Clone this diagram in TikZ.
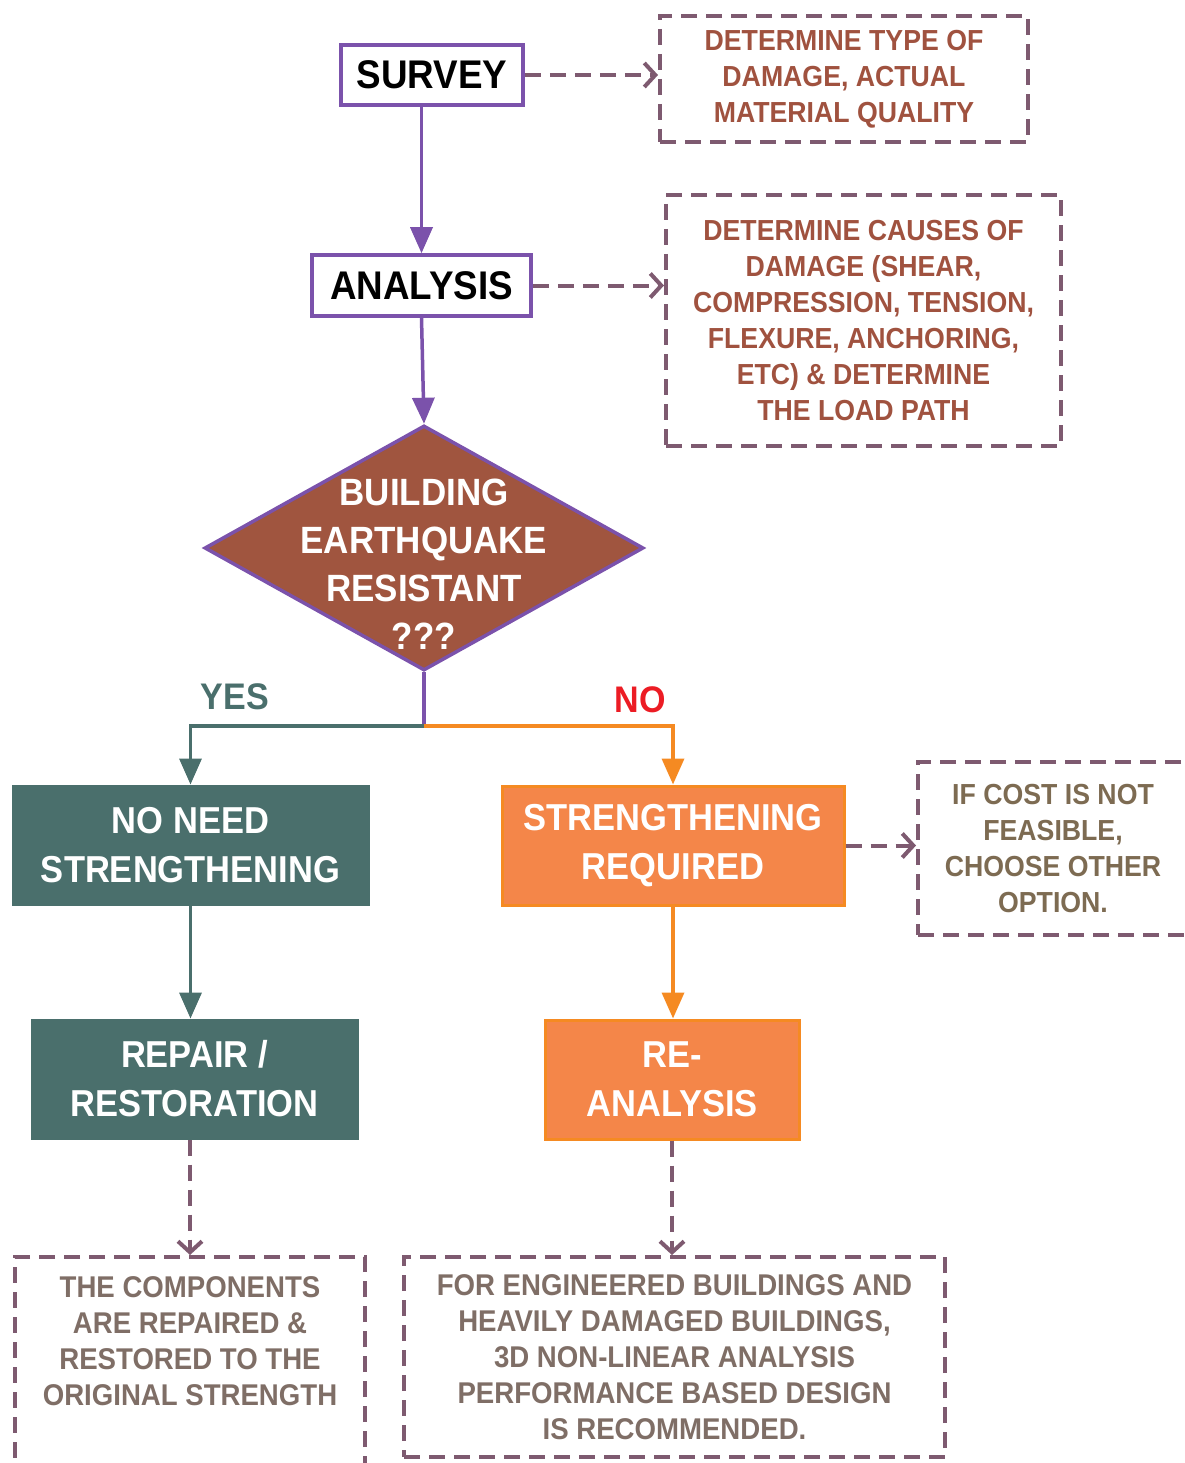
\documentclass[tikz,border=0pt]{standalone}
\usepackage{fontspec}
\setmainfont{Liberation Sans}[FakeStretch=0.92]
\usetikzlibrary{arrows.meta,shapes.geometric}
\definecolor{cpurple}{HTML}{7B52AB}
\definecolor{cdash}{HTML}{7E5A70}
\definecolor{cbrown}{HTML}{A0523F}
\definecolor{cdiam}{HTML}{A0553F}
\definecolor{cteal}{HTML}{4A6F6C}
\definecolor{corfill}{HTML}{F48649}
\definecolor{corline}{HTML}{F58A22}
\definecolor{cred}{HTML}{EC1C24}
\definecolor{colive}{HTML}{7D6B52}
\definecolor{cgrey}{HTML}{7F6E66}
\begin{document}
\begin{tikzpicture}[x=1pt,y=-1pt,
  whitebox/.style={rectangle, draw=cpurple, line width=3.5pt, fill=white, text=black, inner sep=0pt,
    font=\bfseries\fontsize{40}{48}\selectfont},
  dbox/.style={rectangle, draw=cdash, line width=4pt, dash pattern=on 16pt off 9pt, align=center, inner sep=0pt,
    font=\bfseries\fontsize{29}{36}\selectfont},
  tealbox/.style={rectangle, fill=cteal, draw=cteal, line width=1pt, text=white, align=center, inner sep=0pt,
    font=\bfseries\fontsize{37.5}{49}\selectfont},
  orbox/.style={rectangle, fill=corfill, draw=corline, line width=3pt, text=white, align=center, inner sep=0pt,
    font=\bfseries\fontsize{37.5}{49}\selectfont},
  solidarrow/.style={line width=3.5pt, -{Triangle[length=26pt,width=22pt]}},
  dasharrow/.style={draw=cdash, line width=4pt, dash pattern=on 16pt off 9pt, -{Straight Barb[length=11pt,width=24pt]}},
  lbl/.style={font=\bfseries\fontsize{37}{44}\selectfont, anchor=base, inner sep=0pt}
]
\useasboundingbox (0,0) rectangle (1184,1463);

% main nodes
\node[whitebox, minimum width=182pt, minimum height=60pt] (survey) at (432,75) {SURVEY};
\node[whitebox, minimum width=219pt, minimum height=61pt] (analysis) at (421.5,285.5) {ANALYSIS};
\node[diamond, draw=cpurple, fill=cdiam, line width=3.5pt, minimum width=439pt, minimum height=245pt, inner sep=0pt] (dec) at (424,548) {};
\node[text=white, align=center, inner sep=0pt, font=\bfseries\fontsize{38}{48}\selectfont] (dectext) at (424,564) {BUILDING\\EARTHQUAKE\\RESISTANT\\???};
\node[tealbox, minimum width=357pt, minimum height=120pt] (noneed) at (190.5,845) {NO NEED\\STRENGTHENING};
\node[orbox, minimum width=342pt, minimum height=119pt] (strreq) at (673,845.5) {STRENGTHENING\\REQUIRED};
\node[tealbox, minimum width=327pt, minimum height=120pt] (repair) at (194.5,1079) {REPAIR /\\RESTORATION};
\node[orbox, minimum width=254pt, minimum height=119pt] (reana) at (672,1079.5) {RE-\\ANALYSIS};

% note boxes
\node[dbox, text=cbrown, minimum width=368pt, minimum height=126pt] (n1) at (844,79) {DETERMINE TYPE OF\\DAMAGE, ACTUAL\\MATERIAL QUALITY};
\node[dbox, text=cbrown, minimum width=395pt, minimum height=251pt] (n2) at (863.5,320.5) {DETERMINE CAUSES OF\\DAMAGE (SHEAR,\\COMPRESSION, TENSION,\\FLEXURE, ANCHORING,\\ETC) \& DETERMINE\\THE LOAD PATH};
\node[dbox, text=colive, minimum width=270pt, minimum height=173pt] (n3) at (1053,848.5) {IF COST IS NOT\\FEASIBLE,\\CHOOSE OTHER\\OPTION.};
\node[dbox, text=cgrey, minimum width=350pt, minimum height=240pt, font=\bfseries\fontsize{30}{36}\selectfont] (n4) at (190,1377) {THE COMPONENTS\\ARE REPAIRED \&\\RESTORED TO THE\\ORIGINAL STRENGTH\\~\\~};
\node[dbox, text=cgrey, minimum width=541pt, minimum height=200pt, font=\bfseries\fontsize{30}{36}\selectfont] (n5) at (674.5,1357) {FOR ENGINEERED BUILDINGS AND\\HEAVILY DAMAGED BUILDINGS,\\3D NON-LINEAR ANALYSIS\\PERFORMANCE BASED DESIGN\\IS RECOMMENDED.};

% labels
\node[lbl, text=cteal] (yes) at (235,709) {YES};
\node[lbl, text=cred] (no) at (640,712) {NO};

% connectors
\draw[cpurple, solidarrow] (analysis.north |- survey.south) -- (analysis.north);
\draw[cpurple, solidarrow] (analysis.south) -- (dec.north);
\coordinate (j) at (424,726);
\draw[cpurple, line width=3.5pt] (dec.south) -- (j);
\draw[cteal, solidarrow] (j) -| (noneed.north);
\draw[corline, solidarrow] (j) -| (strreq.north);
\draw[cteal, solidarrow] (noneed.south) -- (noneed.south |- repair.north);
\draw[corline, solidarrow] (strreq.south) -- (strreq.south |- reana.north);

\draw[dasharrow] (survey.east) -- (survey.east -| n1.west);
\draw[dasharrow] (analysis.east) -- (analysis.east -| n2.west);
\draw[dasharrow] (strreq.east) -- (strreq.east -| n3.west);
\draw[dasharrow] (n4.north |- repair.south) -- (n4.north);
\draw[dasharrow] (reana.south) -- (reana.south |- n5.north);
\end{tikzpicture}
\end{document}
